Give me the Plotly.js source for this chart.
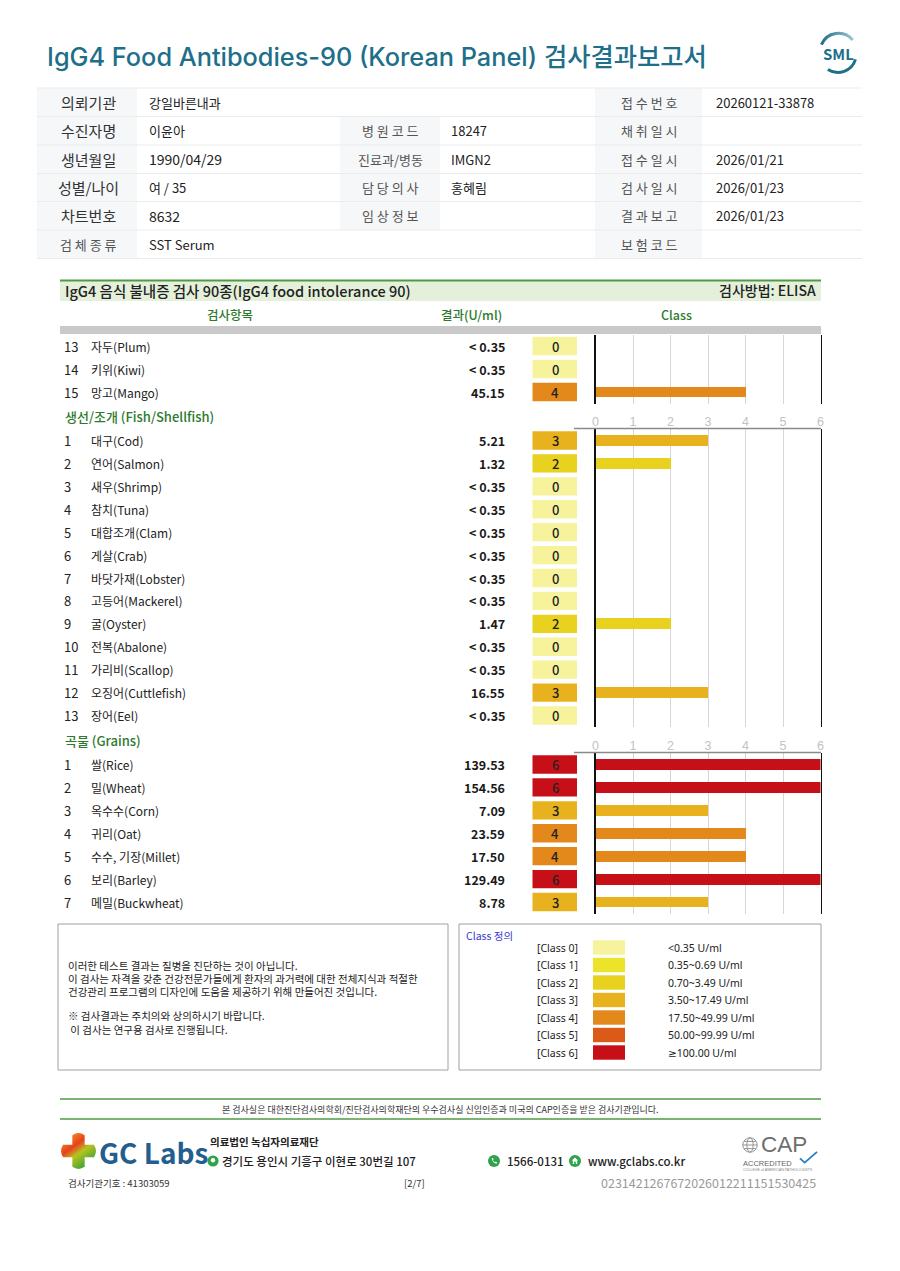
<!DOCTYPE html>
<html>
<head>
<meta charset="utf-8">
<script src="https://cdn.plot.ly/plotly-3.0.1.min.js"></script>
<style>html,body{margin:0;padding:0;background:#fff;}#chart{width:900px;height:1271px;}</style>
</head>
<body>
<div id="chart"></div>
<script>
// ---------------- DATA ----------------
const fruitNums = [13, 14, 15];
const fruitNames = ['자두(Plum)', '키위(Kiwi)', '망고(Mango)'];
const fruitResults = ['< 0.35', '< 0.35', '45.15'];
const fruitClasses = [0, 0, 4];

const fishNums = [1, 2, 3, 4, 5, 6, 7, 8, 9, 10, 11, 12, 13];
const fishNames = ['대구(Cod)', '연어(Salmon)', '새우(Shrimp)', '참치(Tuna)', '대합조개(Clam)', '게살(Crab)', '바닷가재(Lobster)', '고등어(Mackerel)', '굴(Oyster)', '전복(Abalone)', '가리비(Scallop)', '오징어(Cuttlefish)', '장어(Eel)'];
const fishResults = ['5.21', '1.32', '< 0.35', '< 0.35', '< 0.35', '< 0.35', '< 0.35', '< 0.35', '1.47', '< 0.35', '< 0.35', '16.55', '< 0.35'];
const fishClasses = [3, 2, 0, 0, 0, 0, 0, 0, 2, 0, 0, 3, 0];

const grainNums = [1, 2, 3, 4, 5, 6, 7];
const grainNames = ['쌀(Rice)', '밀(Wheat)', '옥수수(Corn)', '귀리(Oat)', '수수, 기장(Millet)', '보리(Barley)', '메밀(Buckwheat)'];
const grainResults = ['139.53', '154.56', '7.09', '23.59', '17.50', '129.49', '8.78'];
const grainClasses = [6, 6, 3, 4, 4, 6, 3];

const classTicks = [0, 1, 2, 3, 4, 5, 6];
const classColors = ['#f6f39c', '#ebe42a', '#e8d11f', '#e8b21f', '#e3891b', '#db5a18', '#c70f18'];
const classLabels = ['[Class 0]', '[Class 1]', '[Class 2]', '[Class 3]', '[Class 4]', '[Class 5]', '[Class 6]'];
const classRanges = ['<0.35 U/ml', '0.35~0.69 U/ml', '0.70~3.49 U/ml', '3.50~17.49 U/ml', '17.50~49.99 U/ml', '50.00~99.99 U/ml', '≥100.00 U/ml'];

const infoRows = [
  ['의뢰기관', '강일바른내과', '', '', '접 수 번 호', '20260121-33878'],
  ['수진자명', '이윤아', '병 원 코 드', '18247', '채 취 일 시', ''],
  ['생년월일', '1990/04/29', '진료과/병동', 'IMGN2', '접 수 일 시', '2026/01/21'],
  ['성별/나이', '여 / 35', '담 당 의 사', '홍혜림', '검 사 일 시', '2026/01/23'],
  ['차트번호', '8632', '임 상 정 보', '', '결 과 보 고', '2026/01/23'],
  ['검 체 종 류', 'SST Serum', '', '', '보 험 코 드', '']
];

const noteLines = [
  '이러한 테스트 결과는 질병을 진단하는 것이 아닙니다.',
  '이 검사는 자격을 갖춘 건강전문가들에게 환자의 과거력에 대한 전체지식과 적절한',
  '건강관리 프로그램의 디자인에 도움을 제공하기 위해 만들어진 것입니다.',
  '※ 검사결과는 주치의와 상의하시기 바랍니다.',
  ' 이 검사는 연구용 검사로 진행됩니다.'
];

// ---------------- HELPERS ----------------
const W = 900, H = 1271;
const FONT = '"Noto Sans CJK KR", "Noto Sans", sans-serif';
const LATIN = 'Inter, "Noto Sans CJK KR", sans-serif';
const X = px => px / W;
const Y = py => 1 - py / H;
const annotations = [], shapes = [], images = [];

function txt(text, x, y, o = {}) {
  annotations.push({
    text: text, x: X(x), y: Y(y), xref: 'paper', yref: 'paper',
    xanchor: o.a || 'left', yanchor: 'middle', showarrow: false,
    font: {family: o.f || FONT, size: o.s || 12, color: o.c || '#222', weight: o.w || 400}
  });
}
function rowTxt(text, x, yref, yv, o = {}) {
  annotations.push({
    text: text, x: X(x), y: yv, xref: 'paper', yref: yref,
    xanchor: o.a || 'left', yanchor: 'middle', showarrow: false,
    font: {family: o.f || FONT, size: o.s || 12, color: o.c || '#222', weight: o.w || 400}
  });
}
function rect(x0, y0, x1, y1, fill, lc, lw) {
  shapes.push({type: 'rect', xref: 'paper', yref: 'paper', x0: X(x0), x1: X(x1), y0: Y(y1), y1: Y(y0),
    fillcolor: fill || 'rgba(0,0,0,0)', line: {color: lc || 'rgba(0,0,0,0)', width: lw || 0}, layer: 'below'});
}
function hline(x0, x1, y, c, w) {
  shapes.push({type: 'line', xref: 'paper', yref: 'paper', x0: X(x0), x1: X(x1), y0: Y(y), y1: Y(y),
    line: {color: c, width: w}, layer: 'above'});
}
function svgImg(svg, x, y, w, h) {
  images.push({source: 'data:image/svg+xml;charset=utf-8,' + encodeURIComponent(svg),
    xref: 'paper', yref: 'paper', x: X(x), y: Y(y), sizex: w / W, sizey: h / H,
    xanchor: 'left', yanchor: 'top', sizing: 'stretch', layer: 'above'});
}

// ---------------- HEADER ----------------
txt('IgG4 Food Antibodies-90 (Korean Panel) 검사결과보고서', 45, 57, {s: 25.3, c: '#1d6f8a', w: 500, f: LATIN});
svgImg("<svg xmlns='http://www.w3.org/2000/svg' viewBox='0 0 50 50' width='50' height='50'><defs><linearGradient id='a' x1='0' y1='0' x2='1' y2='0'><stop offset='0' stop-color='#1d6f8a'/><stop offset='1' stop-color='#9cc4cf'/></linearGradient></defs><path d='M7 17 A20 20 0 0 1 41 12' stroke='url(#a)' stroke-width='3.2' fill='none'/><path d='M44 33 A20 20 0 0 1 14 44' stroke='#1d6f8a' stroke-width='3.2' fill='none'/></svg>", 815, 29, 46, 46);
txt('<b>SML</b>', 838, 53, {s: 15, c: '#1d6f8a', a: 'center'});

// info table
const rowB = [88, 116.5, 145, 173.5, 201.5, 230, 258.5];
for (let r = 0; r < infoRows.length; r++) {
  const y0 = rowB[r], y1 = rowB[r + 1], yc = (y0 + y1) / 2;
  rect(37, y0, 137, y1, '#f5f7f9');
  if (r >= 1 && r <= 4) rect(340, y0, 440, y1, '#f5f7f9');
  rect(595, y0, 702, y1, '#f5f7f9');
  const row = infoRows[r];
  const big = r < 5;
  txt(row[0], 88, yc, {a: 'center', s: big ? 15 : 13, c: big ? '#333' : '#555'});
  txt(row[1], 147, yc, {s: (r === 2 || r === 4) ? 14 : 13, c: '#222'});
  if (row[2]) txt(row[2], 390, yc, {a: 'center', s: 13, c: '#555'});
  if (row[3]) txt(row[3], 449, yc, {s: 13, c: '#222'});
  txt(row[4], 649, yc, {a: 'center', s: 13, c: '#555'});
  if (row[5]) txt(row[5], 714, yc, {s: 13, c: '#222'});
}
for (let i = 0; i < rowB.length; i++) hline(37, 862, rowB[i], '#ebebeb', 1);

// section header
rect(60, 281, 821, 301, '#e4f0da');
hline(60, 821, 280.5, '#4f9a45', 2);
txt('IgG4 음식 불내증 검사 90종(IgG4 food intolerance 90)', 63, 290.5, {s: 14.5, c: '#222', w: 500});
txt('검사방법: ELISA', 818, 290.5, {s: 14, c: '#222', w: 500, a: 'right'});
txt('검사항목', 230, 314, {s: 12.5, c: '#2d7a2d', a: 'center', w: 500});
txt('결과(U/ml)', 471, 314, {s: 12.5, c: '#2d7a2d', a: 'center', w: 500});
txt('Class', 676, 314, {s: 12.5, c: '#2d7a2d', a: 'center', w: 500});
rect(60, 326, 821, 334, '#c9c9c9');

// ---------------- PANELS ----------------
const panels = [
  {nums: fruitNums, names: fruitNames, results: fruitResults, classes: fruitClasses, top: 334.5, bottom: 403.5, ticks: false},
  {nums: fishNums, names: fishNames, results: fishResults, classes: fishClasses, top: 429, bottom: 727, ticks: true, header: '생선/조개 (Fish/Shellfish)', headerY: 416.5, lineY: 428.5},
  {nums: grainNums, names: grainNames, results: grainResults, classes: grainClasses, top: 753, bottom: 913.5, ticks: true, header: '곡물 (Grains)', headerY: 740.5, lineY: 752.5}
];

const traces = [];
const layout = {
  width: W, height: H, margin: {l: 0, r: 0, t: 0, b: 0},
  paper_bgcolor: '#ffffff', plot_bgcolor: 'rgba(0,0,0,0)',
  showlegend: false, bargap: 0, annotations: annotations, shapes: shapes, images: images,
  font: {family: FONT}
};

panels.forEach((p, k) => {
  const sfx = k === 0 ? '' : String(k + 1);
  const n = p.nums.length;
  const idx = p.nums.map((_, i) => i);
  layout['xaxis' + sfx] = {
    domain: [X(595.5), X(820.5)], range: [0, 6], tickvals: classTicks, ticktext: classTicks.map(String),
    side: 'top', showgrid: true, gridcolor: '#d6d6d6', gridwidth: 1, zeroline: false, showline: false,
    ticks: '', showticklabels: p.ticks, tickfont: {family: '"Liberation Sans", Arial, sans-serif', size: 12.5, color: '#c2c2c2'},
    anchor: 'y' + sfx, fixedrange: true
  };
  layout['yaxis' + sfx] = {
    domain: [Y(p.bottom), Y(p.top)], range: [n - 0.5, -0.5], showline: true, mirror: true,
    linecolor: '#111', linewidth: 1.3, showticklabels: false, showgrid: false, zeroline: false, ticks: '',
    anchor: 'x' + sfx, fixedrange: true
  };
  traces.push({
    type: 'bar', orientation: 'h', x: p.classes, y: idx, width: 0.47,
    marker: {color: p.classes.map(c => classColors[c]), line: {width: 0}},
    xaxis: 'x' + sfx, yaxis: 'y' + sfx, hoverinfo: 'skip'
  });
  const yref = 'y' + sfx;
  idx.forEach(i => {
    rowTxt(String(p.nums[i]), 62, yref, i, {s: 13, c: '#222'});
    rowTxt(p.names[i], 88.5, yref, i, {s: 12, c: '#222'});
    rowTxt(p.results[i], 506.5, yref, i, {s: 12.5, c: '#1a1a1a', a: 'right', w: 600});
    shapes.push({type: 'rect', xref: 'paper', yref: yref, x0: X(532.5), x1: X(577), y0: i - 0.4, y1: i + 0.4,
      fillcolor: classColors[p.classes[i]], line: {width: 0}, layer: 'below'});
    rowTxt(String(p.classes[i]), 555, yref, i, {s: 13, c: '#222', a: 'center', w: 500});
  });
  if (p.header) {
    txt(p.header, 63, p.headerY, {s: 13, c: '#2d7a2d', w: 500});
    hline(574, 821, p.lineY, '#8a8a8a', 1.3);
  }
});

// ---------------- NOTE BOXES ----------------
rect(58, 924, 448, 1070, '#ffffff', '#a0a0a0', 1);
rect(459, 924, 821, 1070, '#ffffff', '#a0a0a0', 1);
const noteY = [965, 978, 991, 1016, 1029];
noteLines.forEach((l, i) => txt(l, 66, noteY[i], {s: 10.5, c: '#222'}));
txt('Class 정의', 464, 935, {s: 10.5, c: '#3a3ad0'});
classLabels.forEach((lab, i) => {
  const yc = 947.5 + i * 17.5;
  txt(lab, 580, yc, {s: 10.5, c: '#222', a: 'right', f: '"Noto Sans", sans-serif'});
  rect(593, yc - 7.2, 625, yc + 7.2, classColors[i]);
  txt(classRanges[i], 666, yc, {s: 10.5, c: '#222', f: '"Noto Sans", "DejaVu Sans", sans-serif'});
});

// ---------------- FOOTER ----------------
hline(60, 821, 1099, '#4f9a45', 1.3);
hline(60, 821, 1119, '#4f9a45', 1.3);
txt('본 검사실은 대한진단검사의학회/진단검사의학재단의 우수검사실 신임인증과 미국의 CAP인증을 받은 검사기관입니다.', 440, 1109, {s: 9, c: '#333', a: 'center'});

svgImg("<svg xmlns='http://www.w3.org/2000/svg' viewBox='0 0 36 36' width='36' height='36'><defs><linearGradient id='g' x1='0' y1='0' x2='0.7' y2='1'><stop offset='0' stop-color='#f7b21b'/><stop offset='0.42' stop-color='#e9411d'/><stop offset='0.62' stop-color='#b7c41e'/><stop offset='1' stop-color='#2e9e3a'/></linearGradient></defs><path d='M12 3 Q18 -1 24 3 L24 12 L33 12 Q37 18 33 24 L24 24 L24 33 Q18 37 12 33 L12 24 L3 24 Q-1 18 3 12 L12 12 Z' fill='url(#g)'/></svg>", 60, 1132, 37, 38);
txt('GC Labs', 97, 1152, {s: 28, c: '#235e8e', w: 600});
txt('의료법인 녹십자의료재단', 208, 1141, {s: 10.5, c: '#222', w: 600});
const pin = "<svg xmlns='http://www.w3.org/2000/svg' viewBox='0 0 12 12' width='12' height='12'><circle cx='6' cy='6' r='5.6' fill='#2fa34a'/><circle cx='6' cy='5.2' r='2.2' fill='#fff'/></svg>";
svgImg(pin, 207, 1155, 12, 12);
txt('경기도 용인시 기흥구 이현로 30번길 107', 220, 1161, {s: 11.5, c: '#222', w: 500});
const phone = "<svg xmlns='http://www.w3.org/2000/svg' viewBox='0 0 12 12' width='12' height='12'><circle cx='6' cy='6' r='6' fill='#2fa34a'/><path d='M3.6 3.2 L5 3 L5.6 4.6 L4.8 5.2 Q5.6 6.8 6.9 7.3 L7.5 6.6 L9 7.2 L8.8 8.6 Q5 8.8 3.6 3.2 Z' fill='#fff'/></svg>";
svgImg(phone, 488, 1155, 12, 12);
txt('1566-0131', 505, 1161, {s: 11.5, c: '#222', w: 500});
const home = "<svg xmlns='http://www.w3.org/2000/svg' viewBox='0 0 12 12' width='12' height='12'><circle cx='6' cy='6' r='6' fill='#2fa34a'/><path d='M6 2.6 L9.2 5.6 L8.2 5.6 L8.2 9 L3.8 9 L3.8 5.6 L2.8 5.6 Z' fill='#fff'/><rect x='5.2' y='6.6' width='1.6' height='2.4' fill='#2fa34a'/></svg>";
svgImg(home, 569, 1155, 12, 12);
txt('www.gclabs.co.kr', 586, 1161, {s: 11.5, c: '#222', w: 500});

const globe = "<svg xmlns='http://www.w3.org/2000/svg' viewBox='0 0 20 20' width='20' height='20'><g fill='none' stroke='#8a8a8a' stroke-width='1'><circle cx='10' cy='10' r='8'/><ellipse cx='10' cy='10' rx='3.5' ry='8'/><line x1='2' y1='10' x2='18' y2='10'/><line x1='3.5' y1='6' x2='16.5' y2='6'/><line x1='3.5' y1='14' x2='16.5' y2='14'/></g></svg>";
svgImg(globe, 741, 1136, 18, 18);
txt('CAP', 759, 1144, {s: 22.5, c: '#6e6e6e', f: '"Liberation Sans", Arial, sans-serif'});
txt('ACCREDITED', 741, 1163, {s: 7.5, c: '#666', f: '"Liberation Sans", Arial, sans-serif'});
const check = "<svg xmlns='http://www.w3.org/2000/svg' viewBox='0 0 20 14' width='20' height='14'><path d='M1 8 L6 12.5 L19 1' stroke='#2b7fc0' stroke-width='2' fill='none'/></svg>";
svgImg(check, 799, 1151, 19, 13);
txt('COLLEGE of AMERICAN PATHOLOGISTS', 741, 1169.5, {s: 3.6, c: '#888', f: '"Liberation Sans", Arial, sans-serif'});

txt('검사기관기호 : 41303059', 66, 1183, {s: 9.5, c: '#333'});
txt('[2/7]', 414, 1183, {s: 9.5, c: '#333', a: 'center'});
txt('0231421267672026012211151530425', 818, 1182, {s: 12.5, c: '#9a9a9a', a: 'right'});

Plotly.newPlot('chart', traces, layout, {displayModeBar: false, staticPlot: true});
</script>
</body>
</html>
